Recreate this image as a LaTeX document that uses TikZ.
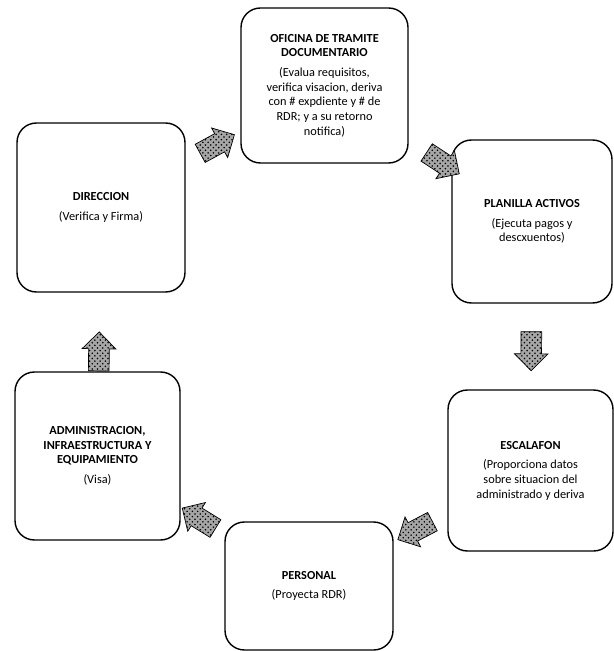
\documentclass[tikz,border=0pt]{standalone}
\usepackage{fontspec}
\setmainfont{Carlito}
\usetikzlibrary{calc,shapes.arrows,patterns}
\tikzset{every node/.style={font=\fontsize{7}{8.3}\selectfont},
  caja/.style={draw,thick,rounded corners=11pt,align=center,inner sep=2pt},
  flecha/.style={single arrow,draw=black,fill=gray!70,postaction={pattern=crosshatch dots,pattern color=black},
    minimum height=.78cm,inner sep=.2cm,single arrow head extend=.13cm}}

\begin{document}
\begin{tikzpicture}[x=.02cm,y=-.02cm]
\useasboundingbox (0,0) rectangle (613,651);
% cajas
\node[caja,minimum width=3.34cm,minimum height=3.1cm] (ofi) at (324.5,85.5)
  {\textbf{OFICINA DE TRAMITE}\\\textbf{DOCUMENTARIO}\\[3pt](Evalua requisitos,\\verifica visacion, deriva\\con \# expdiente y \# de\\RDR; y a su retorno\\notifica)};
\node[caja,minimum width=3.2cm,minimum height=3.26cm] (pla) at (532,221.5)
  {\textbf{PLANILLA ACTIVOS}\\[3pt](Ejecuta pagos y\\descxuentos)};
\node[caja,minimum width=3.3cm,minimum height=3.22cm] (esc) at (530.5,470.5)
  {\textbf{ESCALAFON}\\[3pt](Proporciona datos\\sobre situacion del\\administrado y deriva};
\node[caja,minimum width=3.36cm,minimum height=2.56cm] (per) at (309,586)
  {\textbf{PERSONAL}\\[3pt](Proyecta RDR)};
\node[caja,minimum width=3.3cm,minimum height=3.36cm] (adm) at (97.5,456)
  {\textbf{ADMINISTRACION,}\\\textbf{INFRAESTRUCTURA Y}\\\textbf{EQUIPAMIENTO}\\[3pt](Visa)};
\node[caja,minimum width=3.36cm,minimum height=3.38cm] (dir) at (101,207.5)
  {\textbf{DIRECCION}\\[3pt](Verifica y Firma)};
% flechas del ciclo
\foreach \a/\b/\t in {dir/ofi/.5,ofi/pla/.55,pla/esc/.5,esc/per/.5,per/adm/.5,adm/dir/.4}
  \path let \p1=(\a.center),\p2=(\b.center),\n1={atan2(\y2-\y1,\x2-\x1)} in
    ($(\p1)!\t!(\p2)$) node[flecha,rotate=\n1] (f\a) {};
\end{tikzpicture}
\end{document}
